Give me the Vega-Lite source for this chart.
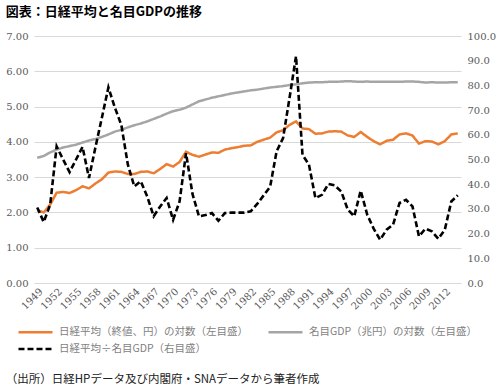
{
  "$schema": "https://vega.github.io/schema/vega-lite/v6.json",
  "background": "white",
  "padding": {"left": 5, "top": 6, "right": 2, "bottom": 4},
  "title": {"text": "（出所）日経HPデータ及び内閣府・SNAデータから筆者作成", "orient": "bottom", "anchor": "start", "font": "Noto Sans CJK JP", "fontSize": 11.5, "fontWeight": "normal", "color": "#222222", "offset": 19},
  "datasets": {
    "d": [
      {"y":1949,"n":2.06,"g":3.55,"r":30.6},{"y":1950,"n":2.00,"g":3.60,"r":24.7},{"y":1951,"n":2.22,"g":3.70,"r":31.7},
      {"y":1952,"n":2.56,"g":3.78,"r":55.3},{"y":1953,"n":2.58,"g":3.84,"r":50.0},{"y":1954,"n":2.55,"g":3.88,"r":44.9},
      {"y":1955,"n":2.63,"g":3.92,"r":50.0},{"y":1956,"n":2.74,"g":3.98,"r":55.1},{"y":1957,"n":2.68,"g":4.04,"r":42.5},
      {"y":1958,"n":2.82,"g":4.08,"r":55.0},{"y":1959,"n":2.94,"g":4.14,"r":67.0},{"y":1960,"n":3.13,"g":4.21,"r":79.2},
      {"y":1961,"n":3.16,"g":4.29,"r":71.0},{"y":1962,"n":3.15,"g":4.34,"r":64.0},{"y":1963,"n":3.09,"g":4.41,"r":48.0},
      {"y":1964,"n":3.09,"g":4.47,"r":39.1},{"y":1965,"n":3.15,"g":4.52,"r":41.2},{"y":1966,"n":3.16,"g":4.58,"r":35.0},
      {"y":1967,"n":3.11,"g":4.65,"r":27.0},{"y":1968,"n":3.23,"g":4.72,"r":31.0},{"y":1969,"n":3.37,"g":4.80,"r":34.4},
      {"y":1970,"n":3.30,"g":4.87,"r":25.6},{"y":1971,"n":3.43,"g":4.91,"r":33.0},{"y":1972,"n":3.72,"g":4.97,"r":52.6},
      {"y":1973,"n":3.63,"g":5.06,"r":36.0},{"y":1974,"n":3.58,"g":5.15,"r":27.0},{"y":1975,"n":3.64,"g":5.20,"r":27.5},
      {"y":1976,"n":3.70,"g":5.25,"r":28.3},{"y":1977,"n":3.69,"g":5.29,"r":25.2},{"y":1978,"n":3.78,"g":5.33,"r":28.3},
      {"y":1979,"n":3.82,"g":5.37,"r":28.5},{"y":1980,"n":3.85,"g":5.40,"r":28.5},{"y":1981,"n":3.89,"g":5.43,"r":28.5},
      {"y":1982,"n":3.90,"g":5.46,"r":29.0},{"y":1983,"n":4.00,"g":5.48,"r":32.0},{"y":1984,"n":4.06,"g":5.51,"r":35.5},
      {"y":1985,"n":4.12,"g":5.54,"r":39.0},{"y":1986,"n":4.27,"g":5.56,"r":53.3},{"y":1987,"n":4.33,"g":5.58,"r":58.7},
      {"y":1988,"n":4.48,"g":5.61,"r":75.0},{"y":1989,"n":4.58,"g":5.63,"r":91.8},{"y":1990,"n":4.38,"g":5.66,"r":51.9},
      {"y":1991,"n":4.36,"g":5.68,"r":47.9},{"y":1992,"n":4.23,"g":5.69,"r":34.4},{"y":1993,"n":4.24,"g":5.69,"r":35.7},
      {"y":1994,"n":4.29,"g":5.70,"r":40.1},{"y":1995,"n":4.30,"g":5.70,"r":39.5},{"y":1996,"n":4.29,"g":5.71,"r":37.0},
      {"y":1997,"n":4.18,"g":5.72,"r":29.7},{"y":1998,"n":4.14,"g":5.71,"r":27.0},{"y":1999,"n":4.28,"g":5.70,"r":37.4},
      {"y":2000,"n":4.14,"g":5.71,"r":27.7},{"y":2001,"n":4.02,"g":5.70,"r":22.0},{"y":2002,"n":3.93,"g":5.70,"r":17.5},
      {"y":2003,"n":4.03,"g":5.70,"r":21.6},{"y":2004,"n":4.06,"g":5.70,"r":23.6},{"y":2005,"n":4.21,"g":5.70,"r":32.4},
      {"y":2006,"n":4.24,"g":5.71,"r":33.7},{"y":2007,"n":4.18,"g":5.71,"r":31.0},{"y":2008,"n":3.95,"g":5.70,"r":18.9},
      {"y":2009,"n":4.02,"g":5.68,"r":22.0},{"y":2010,"n":4.01,"g":5.69,"r":20.9},{"y":2011,"n":3.93,"g":5.68,"r":17.9},
      {"y":2012,"n":4.02,"g":5.68,"r":21.6},{"y":2013,"n":4.21,"g":5.69,"r":33.0},{"y":2014,"n":4.24,"g":5.69,"r":35.5}
    ]
  },
  "vconcat": [
    {
      "width": 427,
      "height": 247,
      "title": {"text": "図表：日経平均と名目GDPの推移", "anchor": "start", "font": "Noto Sans CJK JP", "fontSize": 13, "fontWeight": "bold", "color": "#000000", "offset": 12},
      "data": {"name": "d"},
      "layer": [
        {
          "transform": [{"fold": ["n", "g"], "as": ["s", "v"]}],
          "mark": {"type": "line", "strokeWidth": 2.5},
          "encoding": {
            "x": {
              "field": "y", "type": "ordinal",
              "axis": {"title": null, "values": [1949,1952,1955,1958,1961,1964,1967,1970,1973,1976,1979,1982,1985,1988,1991,1994,1997,2000,2003,2006,2009,2012], "labelAngle": -45, "labelFontSize": 10, "labelPadding": 3, "grid": false, "domain": false, "ticks": false}
            },
            "y": {
              "field": "v", "type": "quantitative",
              "scale": {"domain": [0, 7], "nice": false},
              "axis": {"title": null, "values": [0,1,2,3,4,5,6,7], "format": ".2f", "grid": true, "labelPadding": 6}
            },
            "color": {
              "field": "s", "type": "nominal",
              "scale": {"domain": ["n", "r", "g"], "range": ["#ED7D31", "#000000", "#A5A5A5"]},
              "legend": {"title": null, "orient": "none", "legendX": -9.5, "legendY": 285, "columns": 2, "columnPadding": 14, "rowPadding": 0, "symbolType": "M-1.79,0H1.79", "symbolSize": 361, "symbolStrokeWidth": 2.6, "labelFont": "Noto Sans CJK JP", "labelFontSize": 10.5, "labelColor": "#7f7f7f", "labelLimit": 400, "labelOffset": 12.5,
                "labelExpr": "datum.label == 'n' ? '日経平均（終値、円）の対数（左目盛）' : datum.label == 'g' ? '名目GDP（兆円）の対数（左目盛）' : '日経平均÷名目GDP（右目盛）'"}
            },
            "strokeDash": {
              "field": "s", "type": "nominal",
              "scale": {"domain": ["n", "r", "g"], "range": [[1, 0], [6, 3], [1, 0]]},
              "legend": {"title": null, "orient": "none", "legendX": -9.5, "legendY": 285, "columns": 2, "columnPadding": 14, "rowPadding": 0, "symbolType": "M-1.79,0H1.79", "symbolSize": 361, "symbolStrokeWidth": 2.6, "labelFont": "Noto Sans CJK JP", "labelFontSize": 10.5, "labelColor": "#7f7f7f", "labelLimit": 400, "labelOffset": 12.5,
                "labelExpr": "datum.label == 'n' ? '日経平均（終値、円）の対数（左目盛）' : datum.label == 'g' ? '名目GDP（兆円）の対数（左目盛）' : '日経平均÷名目GDP（右目盛）'"}
            }
          }
        },
        {
          "mark": {"type": "line", "strokeWidth": 2.6},
          "encoding": {
            "x": {"field": "y", "type": "ordinal"},
            "y": {
              "field": "r", "type": "quantitative",
              "scale": {"domain": [0, 100], "nice": false},
              "axis": {"title": null, "orient": "right", "values": [0,10,20,30,40,50,60,70,80,90,100], "format": ".1f", "grid": false, "labelPadding": 6}
            },
            "color": {"datum": "r", "type": "nominal"},
            "strokeDash": {"datum": "r", "type": "nominal"}
          }
        }
      ],
      "resolve": {"scale": {"y": "independent"}}
    }
  ],
  "config": {
    "view": {"stroke": null},
    "axis": {"gridColor": "#d9d9d9", "gridWidth": 1, "domain": false, "ticks": false, "labelColor": "#595959", "labelFont": "DejaVu Serif", "labelFontSize": 10}
  }
}
